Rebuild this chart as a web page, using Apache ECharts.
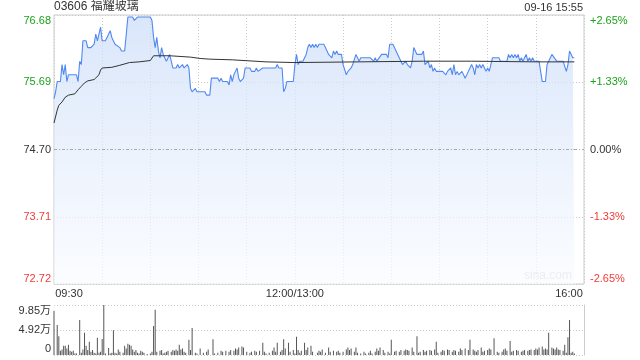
<!DOCTYPE html>
<html><head><meta charset="utf-8">
<script src="https://cdn.jsdelivr.net/npm/echarts@6/dist/echarts.min.js"></script>
<style>html,body{margin:0;padding:0;background:#fff}#c{width:640px;height:360px}</style>
</head><body><div id="c"></div>
<script>
// ---- data ----
const stockTitle = '03606 福耀玻璃';
const stampText = '09-16 15:55';
const prevClose = 74.70;
const priceTickLabels = ['72.72','73.71','74.70','75.69','76.68'];
const pctTickLabels = ['-2.65%','-1.33%','0.00%','+1.33%','+2.65%'];
const timeTickLabels = {0:'09:30',150:'12:00/13:00',330:'16:00'};
const volTickLabels = ['0','4.92万','9.85万'];

// minute index from 09:30 (12:00/13:00 = 150)
const priceMin = [0,1,2,4,5,6,7,8,9,14,15,16,17,18,20,21,23,25,26,27,28,29,30,32,33,34,35,36,38,41,42,44,45,46,49,50,52,60,61,62,63,64,65,66,67,68,70,71,72,73,74,76,77,78,80,81,83,84,85,86,88,89,94,95,97,98,102,103,104,105,108,109,110,111,112,113,114,115,116,117,118,119,122,123,125,126,127,128,130,138,139,140,142,143,144,145,149,150,151,152,153,155,157,158,159,160,161,162,163,164,165,168,169,171,172,173,174,175,176,177,179,180,182,183,185,186,188,189,190,191,197,199,200,201,204,207,208,209,211,213,214,216,217,219,220,221,222,223,224,225,226,229,230,231,233,234,235,236,237,238,242,244,245,246,247,248,249,250,251,252,254,255,256,258,259,260,261,262,263,264,265,266,267,268,269,270,271,273,277,278,282,283,284,285,286,287,288,289,290,291,292,293,294,295,296,297,298,299,302,303,304,306,307,308,310,311,313,317,319,320,321,322,323,324];
const priceVal = [75.45,75.55,75.70,75.70,75.95,75.80,75.95,75.70,75.80,75.80,75.70,76.00,75.95,76.30,76.30,76.20,76.20,76.25,76.40,76.30,76.40,76.50,76.30,76.30,76.35,76.35,76.45,76.35,76.25,76.20,76.15,76.15,76.40,76.65,76.65,76.60,76.65,76.65,76.60,76.35,76.20,76.35,76.15,76.05,76.20,76.10,76.00,76.05,76.10,76.00,75.90,75.90,75.95,75.90,75.95,75.90,75.95,75.90,75.60,75.55,75.60,75.55,75.55,75.50,75.50,75.75,75.75,75.70,75.75,75.70,75.70,75.65,75.80,75.70,75.80,75.85,75.90,75.75,75.70,75.70,75.75,75.90,75.90,75.85,75.85,75.90,75.85,75.85,75.90,75.90,75.95,75.90,75.90,75.55,75.60,75.70,75.70,75.95,76.10,75.95,76.00,76.00,76.10,76.20,76.25,76.20,76.25,76.20,76.25,76.20,76.25,76.25,76.20,76.10,76.10,76.05,76.15,76.10,76.15,76.10,76.10,75.95,75.80,75.85,75.90,75.95,76.10,76.05,76.00,76.05,76.05,76.00,76.05,76.00,76.10,76.10,76.05,76.25,76.25,76.15,76.10,76.00,75.95,76.00,75.95,75.95,75.90,76.00,76.20,76.20,76.10,76.10,76.15,75.95,76.00,75.90,75.95,75.85,75.90,75.85,75.85,75.80,75.85,75.85,75.90,75.80,75.95,75.80,75.85,75.80,75.85,75.80,75.75,75.85,75.90,75.95,75.90,75.80,75.95,75.90,75.95,75.90,75.95,75.90,75.85,75.90,75.85,76.05,76.05,76.00,76.00,76.10,76.05,76.10,76.05,76.10,76.05,76.10,76.00,76.05,76.00,76.05,76.10,76.00,76.05,76.00,76.05,76.00,76.00,75.85,75.70,75.70,75.95,76.00,76.10,76.10,76.00,76.00,75.85,75.95,76.15,76.10,76.05,76.05];

const avgMin = [0,2,3,5,7,9,13,15,17,19,21,25,28,29,30,36,41,47,53,60,62,63,72,85,91,97,111,132,150,190,230,260,300,324];
const avgVal = [75.09,75.28,75.35,75.40,75.47,75.50,75.52,75.58,75.63,75.68,75.71,75.73,75.80,75.87,75.90,75.91,75.94,75.98,75.99,76.01,76.08,76.09,76.08,76.06,76.04,76.03,76.02,75.99,75.98,75.99,76.00,76.00,75.99,75.99];

// volume in 万 shares
const volMin = [0,2,3,4,5,6,7,8,9,10,11,12,13,14,16,17,18,19,20,21,22,23,24,25,26,27,28,29,30,31,32,34,35,36,37,38,39,40,41,43,44,45,46,47,48,49,50,51,52,53,54,55,56,58,60,61,62,63,64,66,67,68,69,70,71,73,74,75,76,77,78,79,80,81,82,84,85,86,88,89,91,93,95,96,99,100,102,104,105,107,109,110,112,113,114,115,117,118,120,122,123,125,126,128,130,131,132,134,136,137,138,139,141,142,143,144,146,147,149,150,151,152,153,154,156,157,158,160,161,164,165,166,167,169,171,172,174,176,177,178,180,182,183,184,185,187,188,189,191,193,194,196,197,198,200,201,202,203,205,206,208,209,210,212,213,215,216,218,219,220,221,223,224,226,227,228,230,231,232,234,235,237,238,239,241,242,243,245,246,248,249,250,252,253,254,256,258,259,261,262,263,264,266,267,268,270,271,272,274,276,277,279,280,281,282,284,285,286,288,289,291,292,293,295,296,297,299,300,301,302,304,305,306,307,308,310,311,312,313,314,315,317,318,319,320,321,322,323,324];
const volVal = [8.7,5.9,3.7,0.85,1.1,1.8,1.8,1.3,2.0,0.85,0.65,0.85,0.3,0.3,6.9,0.45,1.1,4.4,1.8,1.0,2.6,0.65,1.0,0.45,0.3,3.4,0.45,0.65,3.15,9.85,0.3,1.4,0.3,0.45,4.9,0.45,0.3,1.1,0.65,0.45,1.8,1.3,2.2,2.0,1.8,1.1,0.65,1.0,0.45,0.3,0.85,0.65,0.45,0.2,0.3,0.65,5.7,8.9,0.65,0.85,1.0,0.3,0.45,0.65,0.85,0.65,1.0,0.85,1.1,0.85,2.0,1.1,1.3,0.65,0.45,3.0,1.0,5.3,0.45,0.3,1.3,0.45,0.65,1.1,3.1,0.3,0.45,0.85,0.65,0.85,0.65,1.0,0.85,1.3,1.1,1.5,1.65,1.5,0.65,0.45,0.65,0.85,0.65,0.85,2.4,0.65,0.3,0.45,0.85,1.5,0.65,2.4,0.65,1.0,3.1,1.3,2.4,0.65,1.0,0.3,3.6,1.0,0.45,0.85,2.4,1.0,1.5,1.8,0.65,0.45,0.85,0.65,1.1,0.45,1.5,0.65,0.85,0.65,0.85,0.45,0.65,1.1,1.5,1.0,1.3,0.65,1.5,0.45,0.3,0.65,0.3,0.45,0.85,0.3,0.65,1.3,0.85,1.5,1.0,0.45,0.65,0.3,3.0,0.65,0.85,0.65,1.0,0.85,1.1,1.0,0.85,1.5,0.65,3.7,0.45,0.65,1.0,0.65,0.85,1.0,0.85,1.1,2.6,0.45,0.65,1.0,0.85,1.1,1.0,0.65,1.0,0.85,0.65,1.3,1.0,1.3,1.0,3.0,1.1,0.85,0.65,1.0,1.5,0.65,0.85,1.0,1.3,1.1,3.3,0.65,0.45,0.65,1.1,1.3,0.85,2.76,0.65,0.85,1.0,0.85,0.65,0.85,1.0,0.85,1.0,1.1,1.0,1.3,1.1,1.5,1.65,1.1,1.3,1.1,4.4,1.5,1.3,1.1,1.5,1.1,1.0,0.85,2.0,0.45,3.5,6.9,0.45,0.65,0.3];

// ---- chart ----
const GREEN = '#1ba31b', RED = '#f23a3a', DARK = '#333';
const FONT = '"Liberation Sans", Arial, "Noto Sans CJK SC", sans-serif';
const yMin = 72.72, yMax = 76.68, yStep = 0.99;
const volMax = 9.85;

function zip(a, b) { return a.map((v, i) => [v, b[i]]); }
function priceIdx(v) { return Math.round((Number(v) - yMin) / yStep); }
const tickStyleKeys = ['rb','r','k','g','gt'];

const chart = echarts.init(document.getElementById('c'), null, {renderer: 'canvas'});
const base = {fontFamily: FONT, fontSize: 11};
chart.setOption({
  animation: false,
  textStyle: {fontFamily: FONT},
  title: [
    {text: stockTitle, left: 54, top: 1, padding: 0, textStyle: {fontSize: 12, fontWeight: 'normal', color: DARK, fontFamily: FONT}},
    {text: stampText, right: 57, top: 2, padding: 0, textStyle: {fontSize: 11, fontWeight: 'normal', color: DARK, fontFamily: FONT}}
  ],
  graphic: [{type: 'text', right: 68, top: 270, style: {text: 'sina.com', fill: '#d0d0d0', font: '12px ' + FONT}}],
  grid: [
    {left: 54, right: 56, top: 15, height: 269, show: true, borderColor: '#cccccc', borderWidth: 1},
    {left: 54, right: 56, top: 305, height: 50}
  ],
  xAxis: [
    {gridIndex: 0, type: 'value', min: 0, max: 330, interval: 30,
     axisLine: {show: false}, axisTick: {show: false},
     splitLine: {show: true, lineStyle: {color: '#cccccc', type: [1, 2]}},
     axisLabel: {show: true, margin: 4, color: DARK, fontSize: 11, fontFamily: FONT,
       formatter: v => {
         const t = timeTickLabels[Math.round(v)];
         if (!t) return '';
         if (Math.round(v) === 0) return '{l|' + t + '}';
         if (Math.round(v) === 330) return '{rr|' + t + '}';
         return t;
       },
       rich: {l: Object.assign({color: DARK, padding: [0, 0, 0, 30]}, base), rr: Object.assign({color: DARK, padding: [0, 30, 0, 0]}, base)}
     }},
    {gridIndex: 1, type: 'value', min: 0, max: 330, show: false}
  ],
  yAxis: [
    {gridIndex: 0, type: 'value', min: yMin, max: yMax, interval: yStep, position: 'left',
     axisLine: {show: false}, axisTick: {show: false},
     splitLine: {show: true, lineStyle: {color: '#cccccc', type: [1, 2]}},
     axisLabel: {margin: 3, fontSize: 11, fontFamily: FONT,
       formatter: v => { const i = priceIdx(v); return '{' + tickStyleKeys[i] + '|' + priceTickLabels[i] + '}'; },
       rich: {
         g: Object.assign({color: GREEN}, base), k: Object.assign({color: DARK}, base), r: Object.assign({color: RED}, base),
         gt: Object.assign({color: GREEN, padding: [11, 0, 0, 0]}, base), rb: Object.assign({color: RED, padding: [0, 0, 11, 0]}, base)
       }}},
    {gridIndex: 0, type: 'value', min: yMin, max: yMax, interval: yStep, position: 'right',
     axisLine: {show: false}, axisTick: {show: false}, splitLine: {show: false},
     axisLabel: {margin: 6, fontSize: 11, fontFamily: FONT,
       formatter: v => { const i = priceIdx(v); return '{' + tickStyleKeys[i] + '|' + pctTickLabels[i] + '}'; },
       rich: {
         g: Object.assign({color: GREEN}, base), k: Object.assign({color: DARK}, base), r: Object.assign({color: RED}, base),
         gt: Object.assign({color: GREEN, padding: [11, 0, 0, 0]}, base), rb: Object.assign({color: RED, padding: [0, 0, 11, 0]}, base)
       }}},
    {gridIndex: 1, type: 'value', min: 0, max: volMax, interval: volMax / 2, position: 'left',
     axisLine: {show: false}, axisTick: {show: false},
     splitLine: {show: true, lineStyle: {color: '#cccccc', type: [1, 2]}},
     axisLabel: {margin: 3, fontSize: 11, fontFamily: FONT,
       formatter: v => { const i = Math.round(Number(v) / (volMax / 2)); return '{' + ['b','m','t'][i] + '|' + volTickLabels[i] + '}'; },
       rich: {
         m: Object.assign({color: DARK}, base),
         t: Object.assign({color: DARK, padding: [12, 0, 0, 0]}, base),
         b: Object.assign({color: DARK, padding: [0, 0, 12, 0]}, base)
       }}},
    {gridIndex: 1, type: 'value', min: 0, max: volMax, position: 'right',
     axisLine: {show: true, lineStyle: {color: '#cccccc'}}, axisTick: {show: false}, axisLabel: {show: false}, splitLine: {show: false}}
  ],
  series: [
    {type: 'line', xAxisIndex: 0, yAxisIndex: 0, data: zip(priceMin, priceVal), symbol: 'none',
     lineStyle: {color: '#5289f0', width: 1.1},
     areaStyle: {origin: 'start', color: new echarts.graphic.LinearGradient(0, 0, 0, 1, [{offset: 0, color: '#c9dbf8'}, {offset: 0.5, color: '#e3ecfb'}, {offset: 1, color: '#f9fbff'}])},
     markLine: {silent: true, symbol: 'none', label: {show: false},
       lineStyle: {color: '#aaaaaa', type: [3, 2, 1, 2], width: 1}, data: [{yAxis: prevClose}]},
     z: 3},
    {type: 'line', xAxisIndex: 0, yAxisIndex: 0, data: zip(avgMin, avgVal), symbol: 'none',
     lineStyle: {color: '#333333', width: 1}, z: 4},
    {type: 'bar', xAxisIndex: 1, yAxisIndex: 2, data: zip(volMin, volVal), barWidth: 1,
     itemStyle: {color: '#555555'}}
  ]
});
</script></body></html>
